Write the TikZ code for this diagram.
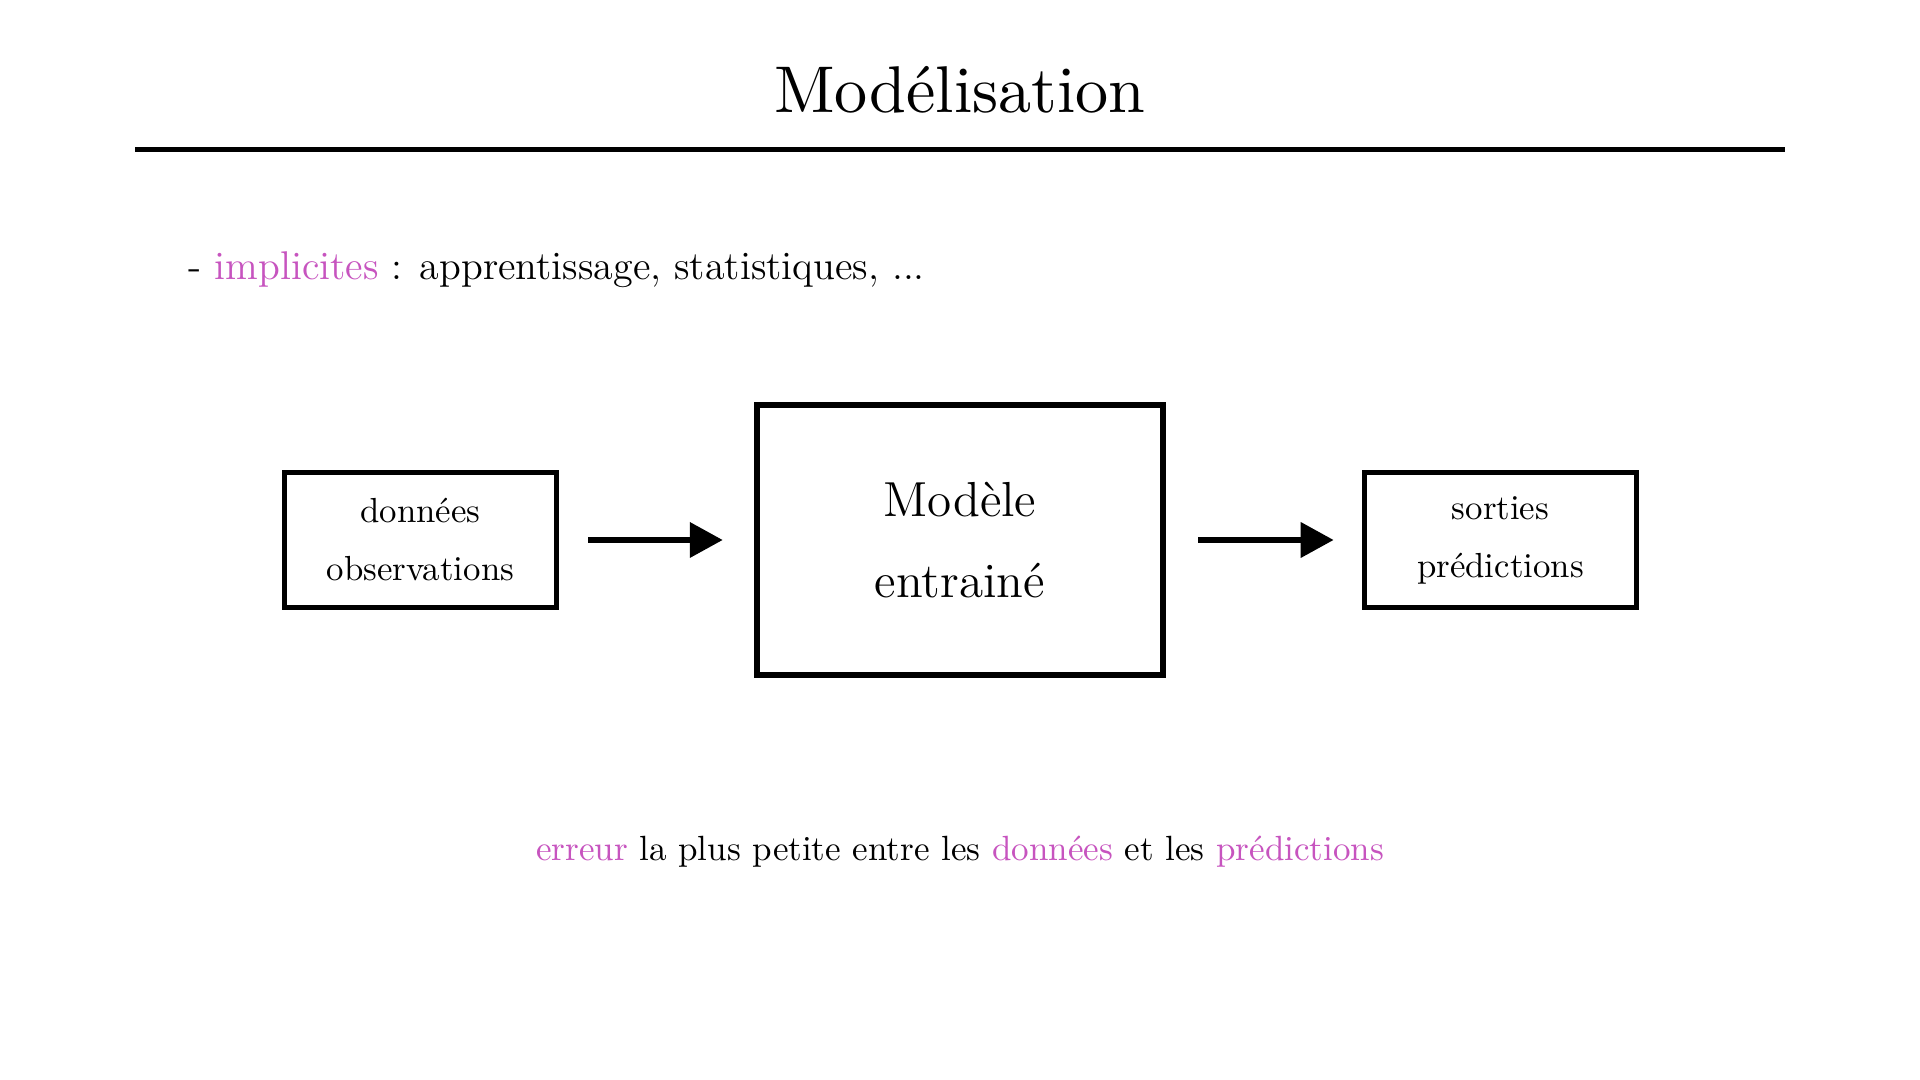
\documentclass[tikz,border=0pt]{standalone}
\usepackage{fontspec}
\newfontfamily\titlefont{lmroman10-regular.otf}
\usetikzlibrary{arrows.meta}
\definecolor{accent}{RGB}{199,84,191}
\begin{document}
\begin{tikzpicture}[x=0.01cm,y=-0.01cm,
  smallbox/.style={draw=black,line width=0.053cm,minimum width=2.72cm,minimum height=1.35cm,align=center,inner sep=0pt,font=\fontsize{9.9pt}{16.5pt}\selectfont},
  bigbox/.style={draw=black,line width=0.06cm,minimum width=4.06cm,minimum height=2.70cm,align=center,inner sep=0pt,font=\fontsize{14pt}{23pt}\selectfont},
  arr/.style={line width=0.067cm,-{Triangle[length=0.33cm,width=0.34cm]}},
  hl/.style={text=accent}]
\useasboundingbox (0,0) rectangle (1920,1080);
\fill[white] (0,0) rectangle (1920,1080);
\node[anchor=base,inner sep=0pt,font=\titlefont\fontsize{18.8pt}{23pt}\selectfont] (title) at (960,113) {Modélisation};
\coordinate (ruleL) at (135,149.5);
\coordinate (ruleR) at (1785,149.5);
\draw[line width=0.05cm] (ruleL) -- (ruleR);
\node[anchor=base west,inner sep=0pt,font=\fontsize{11.4pt}{14pt}\selectfont] (sub) at (188,280) {- \textcolor{accent}{implicites} : apprentissage, statistiques, ...};
\node[smallbox] (data) at (420.5,540) {données\\observations};
\node[bigbox] (model) at (960,540) {Modèle\\entrainé};
\node[smallbox] (out) at (1500.5,540) {sorties\\prédictions};
\draw[arr,shorten <=0.29cm,shorten >=0.31cm] (data.east) -- (model.west);
\draw[arr,shorten <=0.32cm,shorten >=0.28cm] (model.east) -- (out.west);
\node[anchor=base,inner sep=0pt,font=\fontsize{9.96pt}{13pt}\selectfont] (err) at (960,861) {\textcolor{accent}{erreur} la plus petite entre les \textcolor{accent}{données} et les \textcolor{accent}{prédictions}};
\end{tikzpicture}
\end{document}
